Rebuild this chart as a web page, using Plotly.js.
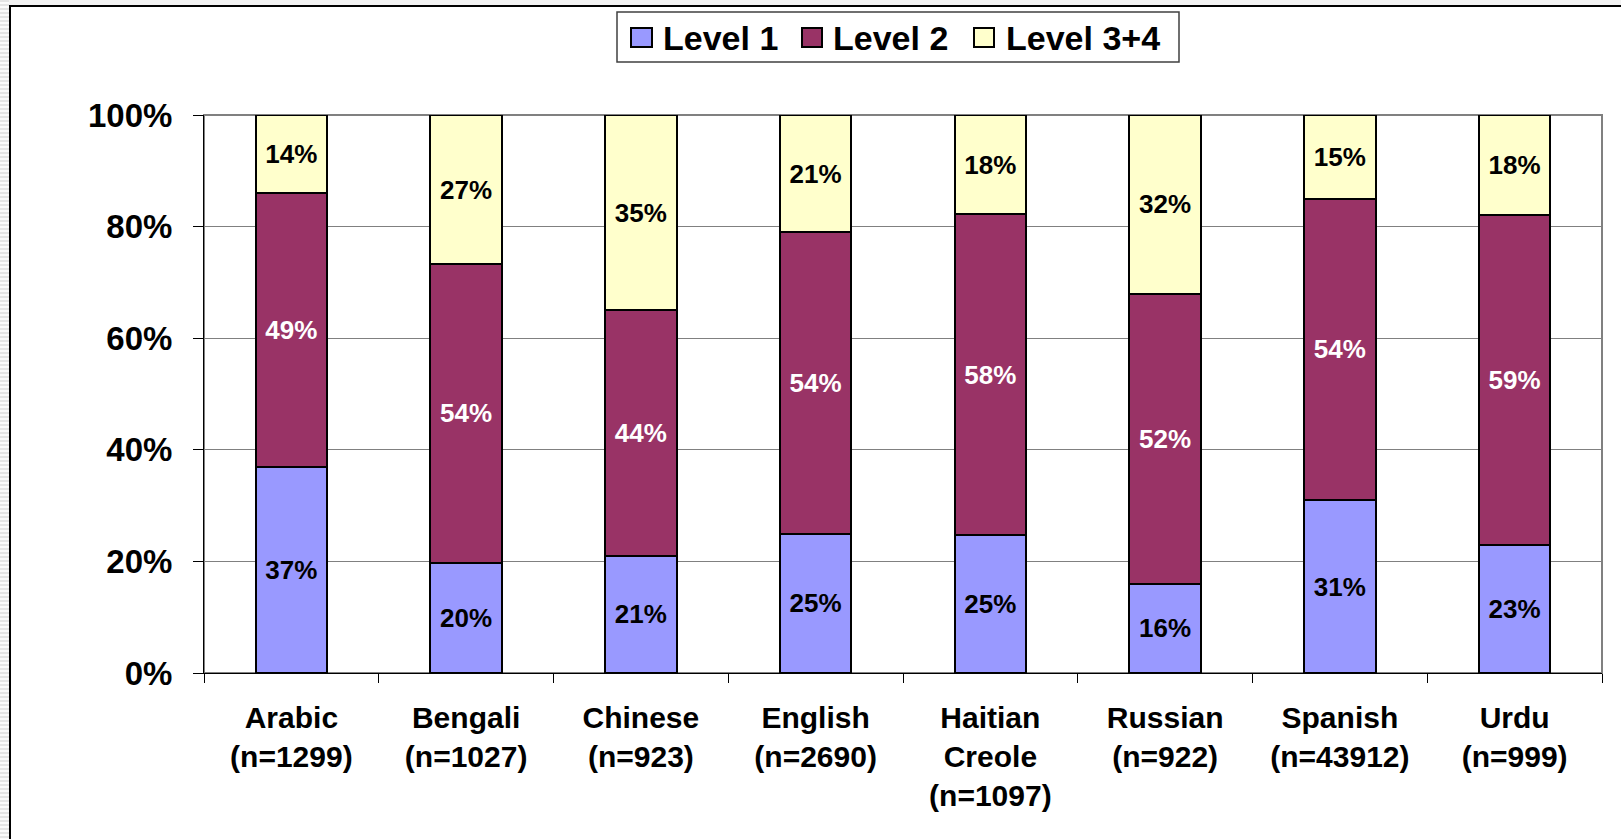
<!DOCTYPE html>
<html>
<head>
<meta charset="utf-8">
<script src="https://cdn.plot.ly/plotly-3.0.1.min.js"></script>
<style>
  html, body { margin: 0; padding: 0; width: 1621px; height: 839px; overflow: hidden; }
  body { background: #f2f2f2; position: relative; }
  #stripes {
    position: absolute; left: 0; top: 0; width: 9px; height: 839px;
    background: repeating-linear-gradient(to bottom, #e4e4e4 0px, #e4e4e4 2px, #fafafa 2px, #fafafa 4px);
  }
  #frame {
    position: absolute; left: 9px; top: 5px; width: 1612px; height: 834px;
    border-left: 2px solid #000; border-top: 2px solid #000;
    background: #fff;
  }
  #chart { position: absolute; left: 0; top: 0; width: 1610px; height: 832px; }
</style>
</head>
<body>
<div id="stripes"></div>
<div id="frame"><div id="chart"></div></div>
<script>
const categories = [
  "Arabic<br>(n=1299)",
  "Bengali<br>(n=1027)",
  "Chinese<br>(n=923)",
  "English<br>(n=2690)",
  "Haitian<br>Creole<br>(n=1097)",
  "Russian<br>(n=922)",
  "Spanish<br>(n=43912)",
  "Urdu<br>(n=999)"
];
const level1 = [37, 20, 21, 25, 25, 16, 31, 23];
const level2 = [49, 54, 44, 54, 58, 52, 54, 59];
const level34 = [14, 27, 35, 21, 18, 32, 15, 18];
const seriesNames = ["Level 1", "Level 2", "Level 3+4"];
const yTickVals = [0, 20, 40, 60, 80, 100];

const FONT = "Arial, 'Liberation Sans', sans-serif";
const colors = ["#9999FF", "#993366", "#FFFFCC"];
const textColors = ["#000000", "#FFFFFF", "#000000"];

const data = [level1, level2, level34].map((vals, i) => ({
  type: "bar",
  name: seriesNames[i],
  x: categories,
  y: vals,
  text: vals.map(v => v + "%"),
  textposition: "inside",
  insidetextanchor: "middle",
  textangle: 0,
  constraintext: "none",
  textfont: { family: FONT, size: 26, weight: "bold", color: textColors[i] },
  marker: { color: colors[i], line: { color: "#000000", width: 2 } },
  width: 0.41,
  showlegend: false,
  hoverinfo: "skip"
}));

// plot-area geometry in page pixels (for the hand-drawn legend box)
const PL = 204, PR = 1602, PT = 115, PB = 673;
const px = x => (x - PL) / (PR - PL);
const py = y => (PB - y) / (PB - PT);

const legendBox = { x0: 617, x1: 1179, y0: 12, y1: 62 };
const swatchX = [[631, 652], [802, 822], [974, 994]];
const swatchY = [28, 47];
const labelX = [662, 832, 1005];
const labelY = 38;

const shapes = [{
  type: "rect", xref: "paper", yref: "paper",
  x0: 0, x1: 1, y0: 0, y1: 1,
  line: { color: "#808080", width: 2 },
  layer: "below"
}, {
  type: "rect", xref: "paper", yref: "paper",
  x0: px(legendBox.x0), x1: px(legendBox.x1), y0: py(legendBox.y1), y1: py(legendBox.y0),
  line: { color: "#404040", width: 1.5 },
  fillcolor: "#ffffff",
  layer: "above"
}];
const annotations = [];
seriesNames.forEach((name, i) => {
  shapes.push({
    type: "rect", xref: "paper", yref: "paper",
    x0: px(swatchX[i][0]), x1: px(swatchX[i][1]),
    y0: py(swatchY[1]), y1: py(swatchY[0]),
    line: { color: "#000000", width: 2 },
    fillcolor: colors[i],
    layer: "above"
  });
  annotations.push({
    xref: "paper", yref: "paper",
    x: px(labelX[i]), y: py(labelY),
    xanchor: "left", yanchor: "middle",
    text: name, showarrow: false, borderpad: 0,
    font: { family: FONT, size: 34, weight: "bold", color: "#000000" }
  });
});

const layout = {
  width: 1610,
  height: 832,
  barmode: "stack",
  barnorm: "percent",
  paper_bgcolor: "#ffffff",
  plot_bgcolor: "#ffffff",
  margin: { l: 193, r: 19, t: 108, b: 166, autoexpand: false },
  font: { family: FONT, color: "#000000" },
  showlegend: false,
  xaxis: {
    type: "category",
    tickson: "boundaries",
    ticks: "outside",
    ticklen: 9,
    tickwidth: 1,
    tickcolor: "#000000",
    showline: true,
    linecolor: "#000000",
    linewidth: 1,
    showgrid: false,
    tickfont: { family: FONT, size: 30, weight: "bold", color: "#000000" },
    ticklabelstandoff: 18
  },
  yaxis: {
    range: [0, 100],
    tickvals: yTickVals,
    ticktext: yTickVals.map(v => v + "%"),
    ticks: "outside",
    ticklen: 10,
    tickwidth: 1,
    tickcolor: "#000000",
    showline: true,
    linecolor: "#000000",
    linewidth: 1,
    showgrid: true,
    gridcolor: "#808080",
    gridwidth: 1,
    zeroline: false,
    tickfont: { family: FONT, size: 33, weight: "bold", color: "#000000" },
    ticklabelstandoff: 14
  },
  shapes: shapes,
  annotations: annotations
};

Plotly.newPlot("chart", data, layout, { displayModeBar: false, staticPlot: true });
</script>
</body>
</html>
